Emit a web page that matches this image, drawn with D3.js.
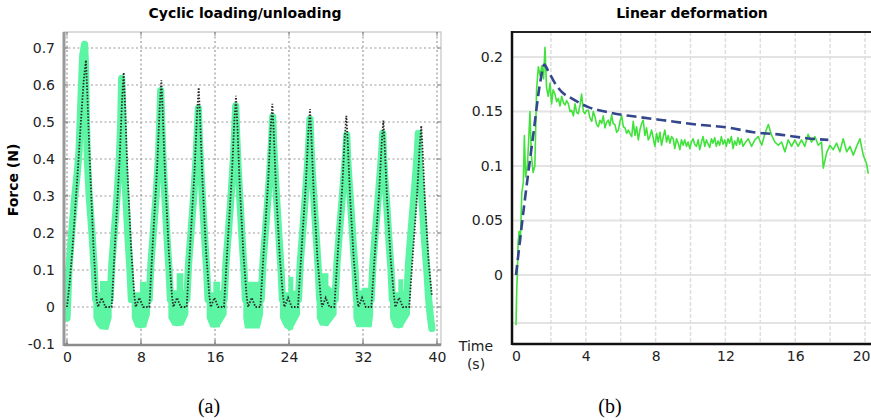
<!DOCTYPE html>
<html><head><meta charset="utf-8">
<script src="https://cdn.jsdelivr.net/npm/d3@7"></script>
<style>body{margin:0;background:#fff;} svg{display:block;}</style>
</head><body><svg id="c" width="871" height="420"></svg>
<script>
// ---------- Panel (a): cyclic loading / unloading ----------
const cycXTicks = [0, 8, 16, 24, 32, 40];
const cycYTicks = [-0.1, 0, 0.1, 0.2, 0.3, 0.4, 0.5, 0.6, 0.7];
// measured force (green band centre line)
const cycMeasT = [0.0,0.1,0.2,0.5,0.85,1.1,1.3,1.45,1.57,1.7,1.9,2.0,2.1,2.2,2.4,2.7,2.95,3.1,
  4.66,4.86,5.11,5.41,5.66,5.81,5.91,6.01,6.16,6.36,6.61,6.81,6.96,
  8.88,9.08,9.33,9.63,9.88,10.03,10.13,10.23,10.38,10.58,10.83,11.03,11.18,
  12.95,13.15,13.4,13.7,13.95,14.1,14.2,14.3,14.45,14.65,14.9,15.1,15.25,
  16.99,17.19,17.44,17.74,17.99,18.14,18.24,18.34,18.49,18.69,18.94,19.14,19.29,
  20.99,21.19,21.44,21.74,21.99,22.14,22.24,22.34,22.49,22.69,22.94,23.14,23.29,
  25.02,25.22,25.47,25.77,26.02,26.17,26.27,26.37,26.52,26.72,26.97,27.17,27.32,
  28.99,29.19,29.44,29.74,29.99,30.14,30.24,30.34,30.49,30.69,30.94,31.14,31.29,
  32.88,33.08,33.33,33.63,33.88,34.03,34.13,34.23,34.38,34.58,34.83,35.03,35.18,
  36.73,36.93,37.18,37.48,37.73,37.88,37.98,38.08,38.23,38.43,38.68,38.9,39.1,39.3,39.45];
const cycMeasF = [-0.03,0.03,0.1,0.2,0.3,0.36,0.42,0.52,0.6,0.68,0.71,0.65,0.5,0.4,0.3,0.2,0.1,0.02,
  0.02,0.12,0.2,0.3,0.4,0.5,0.618,0.54,0.4,0.3,0.18,0.1,0.02,
  0.02,0.12,0.2,0.3,0.4,0.5,0.585,0.505,0.4,0.3,0.18,0.1,0.02,
  0.02,0.12,0.2,0.3,0.4,0.48,0.537,0.46,0.38,0.29,0.18,0.1,0.02,
  0.02,0.12,0.2,0.3,0.4,0.48,0.543,0.465,0.38,0.29,0.18,0.1,0.02,
  0.02,0.12,0.2,0.3,0.39,0.46,0.514,0.44,0.37,0.28,0.18,0.1,0.02,
  0.02,0.12,0.2,0.3,0.39,0.455,0.508,0.435,0.365,0.28,0.18,0.1,0.02,
  0.02,0.12,0.2,0.29,0.37,0.42,0.465,0.4,0.34,0.27,0.17,0.1,0.02,
  0.02,0.12,0.2,0.29,0.37,0.42,0.469,0.4,0.34,0.27,0.17,0.1,0.02,
  0.02,0.12,0.2,0.29,0.37,0.42,0.469,0.4,0.34,0.27,0.17,0.1,0.02,-0.03,-0.058];
// noisy rest phases between cycles (band top / bottom)
const restT = [
  [2.85,3.2,3.57,3.57,4.47,4.47,4.83],
  [7.0,7.4,7.9,7.9,8.6,8.6,8.97],
  [10.96,11.4,11.86,11.86,12.58,12.58,13.12],
  [15.1,15.5,15.82,15.82,16.54,16.54,17.26],
  [19.06,19.24,19.24,20.86,20.86,21.2],
  [23.03,23.5,23.93,23.93,24.47,24.47,25.2],
  [27.0,27.35,27.35,28.26,28.26,29.15],
  [30.96,31.3,31.86,31.86,32.94,33.1],
  [34.92,35.3,35.82,35.82,36.36,36.36,37.08]];
const restHi = [
  [0.05,0.04,0.04,0.07,0.07,0.04,0.04],
  [0.05,0.04,0.04,0.068,0.068,0.04,0.04],
  [0.05,0.045,0.045,0.091,0.091,0.045,0.04],
  [0.05,0.04,0.04,0.068,0.068,0.045,0.04],
  [0.04,0.04,0.068,0.068,0.04,0.04],
  [0.05,0.04,0.04,0.082,0.082,0.045,0.04],
  [0.04,0.04,0.091,0.091,0.058,0.04],
  [0.05,0.045,0.045,0.052,0.052,0.04],
  [0.05,0.04,0.04,0.075,0.075,0.045,0.04]];
const restLo = [
  [-0.03,-0.05,-0.06,-0.06,-0.062,-0.06,-0.03],
  [-0.03,-0.055,-0.058,-0.058,-0.055,-0.05,-0.02],
  [-0.03,-0.05,-0.052,-0.052,-0.05,-0.05,-0.02],
  [-0.03,-0.055,-0.056,-0.056,-0.055,-0.05,-0.02],
  [-0.03,-0.058,-0.058,-0.058,-0.055,-0.02],
  [-0.03,-0.055,-0.062,-0.065,-0.06,-0.055,-0.02],
  [-0.03,-0.05,-0.05,-0.052,-0.05,-0.02],
  [-0.03,-0.055,-0.055,-0.055,-0.055,-0.02],
  [-0.03,-0.055,-0.058,-0.058,-0.055,-0.05,-0.02]];
// model (black dotted)
const cycModelT = [0.0,0.3,0.6,0.9,1.2,1.5,1.8,2.05,2.2,2.45,2.85,3.2,3.35,3.75,4.15,
  4.83,5.23,5.68,5.95,6.13,6.28,6.53,6.93,7.28,7.43,7.83,8.23,
  8.9,9.3,9.75,10.02,10.2,10.35,10.6,11.0,11.35,11.5,11.9,12.3,
  12.94,13.34,13.79,14.06,14.24,14.39,14.64,15.04,15.39,15.54,15.94,16.34,
  16.97,17.37,17.82,18.09,18.27,18.42,18.67,19.07,19.42,19.57,19.97,20.37,
  20.9,21.3,21.75,22.02,22.2,22.35,22.6,23.0,23.35,23.5,23.9,24.3,
  24.97,25.37,25.82,26.09,26.27,26.42,26.67,27.07,27.42,27.57,27.97,28.37,
  28.9,29.3,29.75,30.02,30.2,30.35,30.6,31.0,31.35,31.5,31.9,32.3,
  32.9,33.3,33.75,34.02,34.2,34.35,34.6,35.0,35.35,35.5,35.9,36.3,
  37.0,37.4,37.85,38.12,38.3,38.45,38.7,39.1,39.45];
const cycModelF = [0.0,0.07,0.16,0.27,0.38,0.5,0.61,0.667,0.575,0.4,0.17,0.02,0.0,0.025,0.0,
  0.0,0.19,0.393,0.558,0.634,0.545,0.368,0.159,0.03,0.0,0.025,0.0,
  0.0,0.184,0.38,0.539,0.613,0.527,0.356,0.153,0.03,0.0,0.025,0.0,
  0.0,0.178,0.368,0.522,0.593,0.51,0.344,0.148,0.03,0.0,0.025,0.0,
  0.0,0.171,0.354,0.502,0.571,0.491,0.331,0.143,0.03,0.0,0.025,0.0,
  0.0,0.165,0.34,0.483,0.549,0.472,0.318,0.137,0.03,0.0,0.025,0.0,
  0.0,0.16,0.332,0.471,0.535,0.46,0.31,0.134,0.03,0.0,0.025,0.0,
  0.0,0.155,0.32,0.455,0.517,0.445,0.3,0.129,0.03,0.0,0.025,0.0,
  0.0,0.151,0.312,0.443,0.504,0.433,0.292,0.126,0.03,0.0,0.025,0.0,
  0.0,0.147,0.304,0.431,0.49,0.421,0.284,0.12,0.03];

// ---------- Panel (b): linear deformation ----------
const linXTicks = [0, 4, 8, 12, 16, 20];
const linXGrid = [2, 4, 6, 8, 10, 12, 14, 16, 18, 20];
const linYTicks = [0, 0.05, 0.1, 0.15, 0.2];
const linYGrid = [-0.044, 0, 0.05, 0.1, 0.15, 0.2];
const linMeasT = [0.00,0.04,0.08,0.12,0.18,0.25,0.33,0.42,0.48,0.55,0.65,0.72,0.80,0.88,0.98,1.08,1.18,1.28,1.38,1.48,1.58,1.66,1.75,1.85,1.95,
  2.04,2.13,2.23,2.33,2.43,2.52,2.62,2.72,2.81,2.90,3.00,3.10,3.19,3.29,3.38,3.48,3.57,3.67,3.76,3.86,3.95,4.05,4.15,4.24,4.34,4.43,4.53,4.62,4.72,4.81,4.91,
  5.00,5.10,5.19,5.29,5.38,5.48,5.57,5.67,5.77,5.87,5.96,6.06,6.15,6.25,6.34,6.44,6.53,6.63,6.72,6.82,6.91,7.01,7.10,7.20,7.29,7.39,7.48,7.58,7.67,7.77,7.87,7.96,
  8.06,8.15,8.25,8.34,8.44,8.53,8.63,8.72,8.82,8.91,9.01,9.10,9.20,9.29,9.39,9.48,9.58,9.67,9.77,9.86,9.96,10.05,10.15,10.24,10.34,10.44,10.53,10.63,10.72,10.82,10.91,
  11.01,11.10,11.20,11.29,11.39,11.48,11.58,11.67,11.77,11.86,11.96,12.05,12.15,12.24,12.34,12.44,12.53,12.63,12.72,12.82,12.91,13.01,
  13.12,13.31,13.50,13.69,13.88,14.08,14.27,14.46,14.65,14.84,15.03,15.22,15.41,15.60,15.79,15.98,16.17,16.36,16.55,16.74,16.93,17.13,17.32,17.51,17.61,
  17.80,17.99,18.18,18.37,18.56,18.75,18.95,19.14,19.33,19.52,19.71,19.90,20.09,20.19];
const linMeasF = [-0.046,-0.015,0.002,0.030,0.040,0.030,0.075,0.085,0.128,0.090,0.100,0.121,0.150,0.110,0.094,0.100,0.170,0.191,0.183,0.192,0.180,0.209,0.172,0.164,0.176,
  0.157,0.170,0.166,0.159,0.162,0.155,0.164,0.158,0.156,0.160,0.157,0.150,0.151,0.146,0.157,0.149,0.148,0.156,0.166,0.150,0.148,0.151,0.151,0.144,0.141,0.150,0.145,0.138,0.136,0.142,0.139,
  0.146,0.135,0.140,0.142,0.137,0.147,0.139,0.138,0.131,0.133,0.141,0.146,0.136,0.135,0.130,0.133,0.130,0.127,0.141,0.128,0.136,0.124,0.133,0.139,0.142,0.128,0.135,0.124,0.127,0.133,0.125,0.118,
  0.130,0.122,0.131,0.119,0.127,0.133,0.122,0.128,0.121,0.127,0.125,0.116,0.125,0.121,0.115,0.124,0.119,0.124,0.118,0.122,0.116,0.122,0.125,0.120,0.118,0.124,0.115,0.122,0.127,0.118,0.124,
  0.120,0.117,0.125,0.121,0.126,0.118,0.123,0.119,0.127,0.120,0.124,0.118,0.125,0.121,0.127,0.116,0.123,0.119,0.126,0.120,0.125,0.118,
  0.121,0.125,0.118,0.124,0.127,0.119,0.130,0.138,0.128,0.122,0.119,0.122,0.113,0.124,0.118,0.124,0.118,0.124,0.118,0.129,0.122,0.127,0.119,0.122,0.098,
  0.112,0.119,0.115,0.121,0.113,0.125,0.113,0.118,0.110,0.118,0.125,0.110,0.102,0.093];
const linModelT = [0, 0.5, 1.0, 1.4, 1.62, 1.85, 2.23, 2.62, 3.19, 4.15, 5.1, 6.06, 7.0, 8.44, 10.36, 12.26, 13.6, 15.03, 16.94, 17.9];
const linModelF = [0, 0.068, 0.13, 0.178, 0.193, 0.187, 0.176, 0.168, 0.162, 0.154, 0.150, 0.147, 0.145, 0.142, 0.138, 0.135, 0.131, 0.129, 0.125, 0.124];

// ================= drawing =================
const svg = d3.select('#c');
const FONT = 'DejaVu Sans, Verdana, sans-serif';

// ----- Panel (a) -----
const A = {l:64, r:441, t:32, b:345};
const xA = d3.scaleLinear().domain([0, 40]).range([67, 437]);
const yA = d3.scaleLinear().domain([-0.1, 0.7]).range([344, 48]);
const gA = svg.append('g');
gA.append('rect').attr('x', A.l).attr('y', A.t).attr('width', A.r - A.l).attr('height', A.b - A.t)
  .attr('fill', '#fff').attr('stroke', '#c4c4c4').attr('stroke-width', 1.2);
svg.append('clipPath').attr('id', 'clipA').append('rect')
  .attr('x', A.l).attr('y', A.t).attr('width', A.r - A.l).attr('height', A.b - A.t);
// grid
gA.selectAll('.gy').data(cycYTicks.filter(d => d > -0.1)).join('line')
  .attr('x1', A.l).attr('x2', A.r).attr('y1', d => yA(d)).attr('y2', d => yA(d))
  .attr('stroke', '#9a9a9a').attr('stroke-width', 1.2).attr('stroke-dasharray', '2,2.5');
gA.selectAll('.gx').data(cycXTicks).join('line')
  .attr('x1', d => xA(d)).attr('x2', d => xA(d)).attr('y1', A.t).attr('y2', A.b)
  .attr('stroke', '#9a9a9a').attr('stroke-width', 1.2).attr('stroke-dasharray', '2,2.5');
// small frame ticks
gA.selectAll('.tt').data(cycXTicks).join('line')
  .attr('x1', d => xA(d)).attr('x2', d => xA(d)).attr('y1', A.t).attr('y2', A.t + 4)
  .attr('stroke', '#888').attr('stroke-width', 1);
gA.selectAll('.tr').data(cycYTicks).join('line')
  .attr('x1', A.r - 4).attr('x2', A.r).attr('y1', d => yA(d)).attr('y2', d => yA(d))
  .attr('stroke', '#888').attr('stroke-width', 1);
gA.selectAll('.tl').data(cycYTicks).join('line')
  .attr('x1', A.l).attr('x2', A.l + 4).attr('y1', d => yA(d)).attr('y2', d => yA(d))
  .attr('stroke', '#777').attr('stroke-width', 1.2);
gA.selectAll('.tb').data(cycXTicks).join('line')
  .attr('x1', d => xA(d)).attr('x2', d => xA(d)).attr('y1', A.b - 5).attr('y2', A.b)
  .attr('stroke', '#777').attr('stroke-width', 1.2);

const dA = gA.append('g').attr('clip-path', 'url(#clipA)');
const green = '#5cf5a4';
restT.forEach((ts, i) => {
  const pts = ts.map((t, j) => ({t, hi: restHi[i][j], lo: restLo[i][j]}));
  dA.append('path').datum(pts)
    .attr('d', d3.area().x(d => xA(d.t)).y0(d => yA(d.lo)).y1(d => yA(d.hi)))
    .attr('fill', green);
});
const measA = cycMeasT.map((t, i) => [t, cycMeasF[i]]);
dA.append('path').datum(measA)
  .attr('d', d3.line().x(d => xA(d[0])).y(d => yA(d[1])))
  .attr('fill', 'none').attr('stroke', green).attr('stroke-width', 7.2)
  .attr('stroke-linejoin', 'round').attr('stroke-linecap', 'round');
const modA = cycModelT.map((t, i) => [t, cycModelF[i]]);
dA.append('path').datum(modA)
  .attr('d', d3.line().x(d => xA(d[0])).y(d => yA(d[1])))
  .attr('fill', 'none').attr('stroke', '#2b2b2b').attr('stroke-width', 1.8)
  .attr('stroke-dasharray', '1.5,1.6');

// axis lines
gA.append('line').attr('x1', A.l).attr('x2', A.l).attr('y1', A.t).attr('y2', A.b + 1)
  .attr('stroke', '#999').attr('stroke-width', 3);
gA.append('line').attr('x1', A.l).attr('x2', A.r).attr('y1', A.b).attr('y2', A.b)
  .attr('stroke', '#8c8c8c').attr('stroke-width', 2.5);

// tick labels
const axAy = gA.append('g').attr('transform', `translate(${A.l},0)`)
  .call(d3.axisLeft(yA).tickValues(cycYTicks).tickSize(0).tickPadding(9).tickFormat(d => String(d)));
const axAx = gA.append('g').attr('transform', `translate(0,${A.b})`)
  .call(d3.axisBottom(xA).tickValues(cycXTicks).tickSize(0).tickPadding(7).tickFormat(d => String(d)));
[axAy, axAx].forEach(ax => {
  ax.select('.domain').remove();
  ax.selectAll('text').attr('font-family', FONT).attr('font-size', 14).attr('fill', '#222');
});

svg.append('text').attr('x', 245).attr('y', 18).attr('text-anchor', 'middle')
  .attr('font-family', FONT).attr('font-weight', 'bold').attr('font-size', 14)
  .text('Cyclic loading/unloading');
svg.append('text').attr('transform', 'translate(18,180) rotate(-90)').attr('text-anchor', 'middle')
  .attr('font-family', FONT).attr('font-weight', 'bold').attr('font-size', 14)
  .text('Force (N)');
svg.append('text').attr('x', 209).attr('y', 413).attr('text-anchor', 'middle')
  .attr('font-family', 'Liberation Serif, Times New Roman, serif').attr('font-size', 20)
  .text('(a)');

// ----- Panel (b) -----
const B = {l:512, r:871, t:32, b:344};
const xB = d3.scaleLinear().domain([0, 20]).range([516, 865]);
const yB = d3.scaleLinear().domain([0, 0.2]).range([275, 57]);
const gB = svg.append('g');
svg.append('clipPath').attr('id', 'clipB').append('rect')
  .attr('x', B.l).attr('y', B.t).attr('width', B.r - B.l).attr('height', B.b - B.t);
gB.selectAll('.hy').data(linYGrid).join('line')
  .attr('x1', B.l).attr('x2', B.r).attr('y1', d => yB(d)).attr('y2', d => yB(d))
  .attr('stroke', '#e3e3e3').attr('stroke-width', 2);
gB.selectAll('.vx').data(linXGrid).join('line')
  .attr('x1', d => xB(d)).attr('x2', d => xB(d)).attr('y1', B.t).attr('y2', B.b)
  .attr('stroke', '#dedede').attr('stroke-width', 1.5).attr('stroke-dasharray', '4,2');
const dB = gB.append('g').attr('clip-path', 'url(#clipB)');
const measB = linMeasT.map((t, i) => [t, linMeasF[i]]);
dB.append('path').datum(measB)
  .attr('d', d3.line().x(d => xB(d[0])).y(d => yB(d[1])))
  .attr('fill', 'none').attr('stroke', '#41e23c').attr('stroke-width', 1.6)
  .attr('stroke-linejoin', 'round');
const modB = linModelT.map((t, i) => [t, linModelF[i]]);
dB.append('path').datum(modB)
  .attr('d', d3.line().curve(d3.curveMonotoneX).x(d => xB(d[0])).y(d => yB(d[1])))
  .attr('fill', 'none').attr('stroke', '#34468c').attr('stroke-width', 2.6)
  .attr('stroke-dasharray', '10,5');
// axes frame
gB.append('line').attr('x1', B.l).attr('x2', B.r).attr('y1', B.t).attr('y2', B.t)
  .attr('stroke', '#222').attr('stroke-width', 2);
gB.append('line').attr('x1', B.l).attr('x2', B.l).attr('y1', B.t - 1).attr('y2', B.b + 1)
  .attr('stroke', '#111').attr('stroke-width', 2.5);
gB.append('line').attr('x1', B.l).attr('x2', B.r).attr('y1', B.b).attr('y2', B.b)
  .attr('stroke', '#111').attr('stroke-width', 2.5);
const axBy = gB.append('g').attr('transform', `translate(${B.l},0)`)
  .call(d3.axisLeft(yB).tickValues(linYTicks).tickSize(0).tickPadding(9).tickFormat(d => String(d)));
const axBx = gB.append('g').attr('transform', `translate(0,${B.b})`)
  .call(d3.axisBottom(xB).tickValues(linXTicks).tickSize(0).tickPadding(7).tickFormat(d => String(d)));
[axBy, axBx].forEach(ax => {
  ax.select('.domain').remove();
  ax.selectAll('text').attr('font-family', FONT).attr('font-size', 14).attr('fill', '#222');
});
// keep the last x label inside the page
axBx.selectAll('.tick').filter(d => d === 20).select('text')
  .attr('text-anchor', 'end').attr('x', 5);
svg.append('text').attr('x', 692).attr('y', 18).attr('text-anchor', 'middle')
  .attr('font-family', FONT).attr('font-weight', 'bold').attr('font-size', 14)
  .text('Linear deformation');
svg.append('text').attr('x', 476).attr('y', 351).attr('text-anchor', 'middle')
  .attr('font-family', FONT).attr('font-size', 14).attr('fill', '#222').text('Time');
svg.append('text').attr('x', 476).attr('y', 369).attr('text-anchor', 'middle')
  .attr('font-family', FONT).attr('font-size', 14).attr('fill', '#222').text('(s)');
svg.append('text').attr('x', 610).attr('y', 413).attr('text-anchor', 'middle')
  .attr('font-family', 'Liberation Serif, Times New Roman, serif').attr('font-size', 20)
  .text('(b)');
</script>
</body></html>
